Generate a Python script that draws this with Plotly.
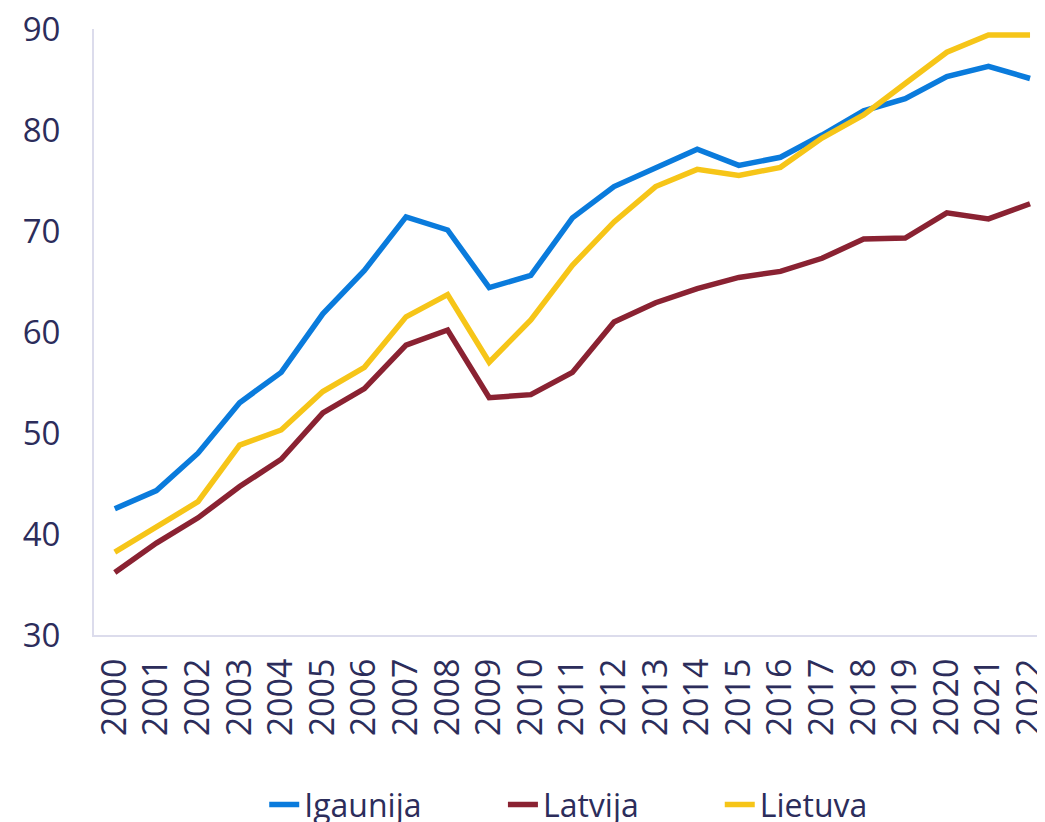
import plotly.graph_objects as go

years = [str(y) for y in range(2000, 2023)]

igaunija = [42.5, 44.3, 48.0, 53.0, 56.0, 61.8, 66.1, 71.4, 70.1, 64.4, 65.6, 71.3,
            74.4, 76.3, 78.1, 76.5, 77.3, 79.5, 81.9, 83.1, 85.3, 86.3, 85.1]
latvija = [36.2, 39.1, 41.6, 44.7, 47.4, 52.0, 54.4, 58.7, 60.2, 53.5, 53.8, 56.0,
           61.0, 62.9, 64.3, 65.4, 66.0, 67.3, 69.2, 69.3, 71.8, 71.2, 72.7]
lietuva = [38.2, 40.7, 43.2, 48.8, 50.3, 54.1, 56.5, 61.5, 63.7, 57.0, 61.2, 66.6,
           70.9, 74.4, 76.1, 75.5, 76.3, 79.2, 81.5, 84.6, 87.7, 89.4, 89.4]

series = [
    ("Igaunija", igaunija, "#0a7bdc", "legend", 0.179),
    ("Latvija", latvija, "#8a2232", "legend2", 0.43),
    ("Lietuva", lietuva, "#f6c518", "legend3", 0.658),
]

text_color = "#2c2d5b"
axis_color = "#dcdcec"

# the page body has an 8px margin, so the figure is a bit smaller than the window
fig = go.Figure()
legends = {}
for name, values, color, legend_id, legend_x in series:
    fig.add_trace(
        go.Scatter(
            x=years,
            y=values,
            mode="lines",
            name=name,
            line={"color": color, "width": 5.5},
            legend=legend_id,
        )
    )
    legends[legend_id] = {
        "orientation": "h",
        "x": legend_x,
        "xanchor": "left",
        "y": -0.28,
        "yanchor": "middle",
        "font": {"size": 32, "color": text_color},
        "bgcolor": "rgba(0,0,0,0)",
    }

fig.update_layout(
    width=1037,
    height=814,
    paper_bgcolor="white",
    plot_bgcolor="white",
    font={"family": "Open Sans", "size": 32, "color": text_color},
    margin={"l": 86, "r": 0, "t": 21, "b": 187, "autoexpand": False},
    showlegend=True,
    **legends,
)

fig.update_xaxes(
    type="category",
    range=[-0.5, 22.36],
    tickangle=-90,
    showgrid=False,
    showline=True,
    linecolor=axis_color,
    linewidth=2,
    ticks="",
    ticklabelstandoff=8,
    ticklabeloverflow="allow",
    tickfont={"size": 34},
    automargin=False,
)
fig.update_yaxes(
    range=[30, 90],
    dtick=10,
    showgrid=False,
    zeroline=False,
    showline=True,
    linecolor=axis_color,
    linewidth=2,
    ticks="",
    ticklabelstandoff=25,
    ticklabeloverflow="allow",
    tickfont={"size": 33},
    automargin=False,
)

fig.write_html("out.html")
